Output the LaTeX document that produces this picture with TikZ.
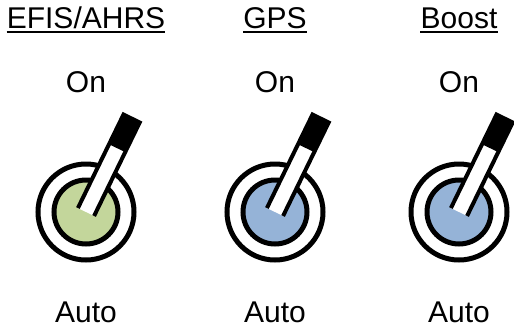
\documentclass[tikz,border=0pt]{standalone}
\usepackage{fontspec}
\setmainfont{Liberation Sans}
\usetikzlibrary{positioning}
\definecolor{knobgreen}{RGB}{195,214,155}
\definecolor{knobblue}{RGB}{149,179,215}
\tikzset{lbl/.style={inner sep=0pt,anchor=base,font=\fontsize{30}{36}\selectfont}}
\tikzset{ring/.style={line width=5pt}}
\tikzset{lever/.style={line width=4pt}}

\begin{document}
\begin{tikzpicture}[x=1pt,y=-1pt]
\useasboundingbox (0,0) rectangle (514,327);
\foreach \cx/\name/\col/\i in {86/{EFIS/AHRS}/knobgreen/1, 275/GPS/knobblue/2, 459/Boost/knobblue/3} {
  % labels
  \node[lbl] (head\i) at (\cx,28) {\name};
  \draw[line width=2.5pt] ([yshift=-4pt]head\i.base west) -- ([yshift=-4pt]head\i.base east);
  \node[lbl] (on\i) at (\cx,92) {On};
  \node[lbl] (auto\i) at (\cx,322) {Auto};
  % switch
  \coordinate (sw\i) at (\cx,212);
  \draw[ring] (sw\i) circle[radius=48];
  \filldraw[ring,fill=\col] (sw\i) circle[radius=32];
  \begin{scope}[shift={(sw\i)},rotate=-26]
    \fill[white] (-9,0) rectangle (9,-104);
    \fill (-9,-71) rectangle (9,-104);
    \draw[lever] (-9,0) -- (-9,-104) -- (9,-104) -- (9,0);
  \end{scope}
}
\end{tikzpicture}
\end{document}
